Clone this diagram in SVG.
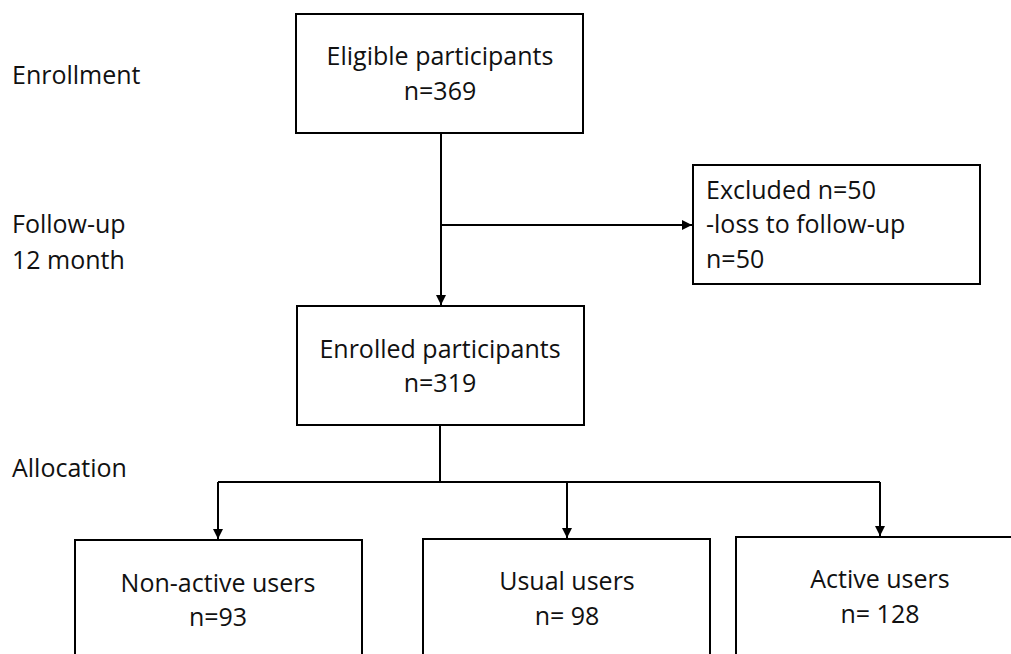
<svg xmlns="http://www.w3.org/2000/svg" width="1011" height="654" viewBox="0 0 1011 654">
  <defs>
    <style>
      .box { fill: #ffffff; stroke: #000000; stroke-width: 2; }
      .t { font-family: "Open Sans", "Liberation Sans", sans-serif; font-size: 25px; fill: #111111; }
      .c { text-anchor: middle; }
      .line { fill: none; stroke: #000000; stroke-width: 2; }
    </style>
    <marker id="arrow" viewBox="0 0 10 10" refX="10" refY="5" markerWidth="5" markerHeight="5" orient="auto" markerUnits="strokeWidth">
      <path d="M0,0 L10,5 L0,10 z" fill="#000000"/>
    </marker>
  </defs>
  <rect width="1011" height="654" fill="#ffffff"/>

  <g id="labels">
    <text class="t" x="12" y="84">Enrollment</text>
    <text class="t" x="12" y="233">Follow-up</text>
    <text class="t" x="12" y="269">12 month</text>
    <text class="t" x="12" y="477">Allocation</text>
  </g>

  <g id="connectors">
    <line class="line" x1="441" y1="133" x2="441" y2="305" marker-end="url(#arrow)"/>
    <line class="line" x1="441" y1="225" x2="692" y2="225" marker-end="url(#arrow)"/>
    <polyline class="line" points="440,425 440,482"/>
    <polyline class="line" points="218,482 880,482"/>
    <line class="line" x1="218" y1="482" x2="218" y2="539" marker-end="url(#arrow)"/>
    <line class="line" x1="567" y1="482" x2="567" y2="538" marker-end="url(#arrow)"/>
    <line class="line" x1="880" y1="482" x2="880" y2="536" marker-end="url(#arrow)"/>
  </g>

  <g id="eligible">
    <rect class="box" x="296" y="14" width="287" height="119"/>
    <text class="t c" x="440" y="65">Eligible participants</text>
    <text class="t c" x="440" y="100">n=369</text>
  </g>

  <g id="excluded">
    <rect class="box" x="693" y="165" width="287" height="119"/>
    <text class="t" x="706" y="199">Excluded n=50</text>
    <text class="t" x="706" y="233">-loss to follow-up</text>
    <text class="t" x="706" y="268">n=50</text>
  </g>

  <g id="enrolled">
    <rect class="box" x="297" y="306" width="287" height="119"/>
    <text class="t c" x="440" y="358">Enrolled participants</text>
    <text class="t c" x="440" y="392">n=319</text>
  </g>

  <g id="nonactive">
    <rect class="box" x="75" y="540" width="287" height="130"/>
    <text class="t c" x="218" y="592">Non-active users</text>
    <text class="t c" x="218" y="626">n=93</text>
  </g>

  <g id="usual">
    <rect class="box" x="423" y="539" width="287" height="130"/>
    <text class="t c" x="567" y="590">Usual users</text>
    <text class="t c" x="567" y="625">n= 98</text>
  </g>

  <g id="active">
    <rect class="box" x="736" y="537" width="287" height="130"/>
    <text class="t c" x="880" y="588">Active users</text>
    <text class="t c" x="880" y="623">n= 128</text>
  </g>
</svg>
